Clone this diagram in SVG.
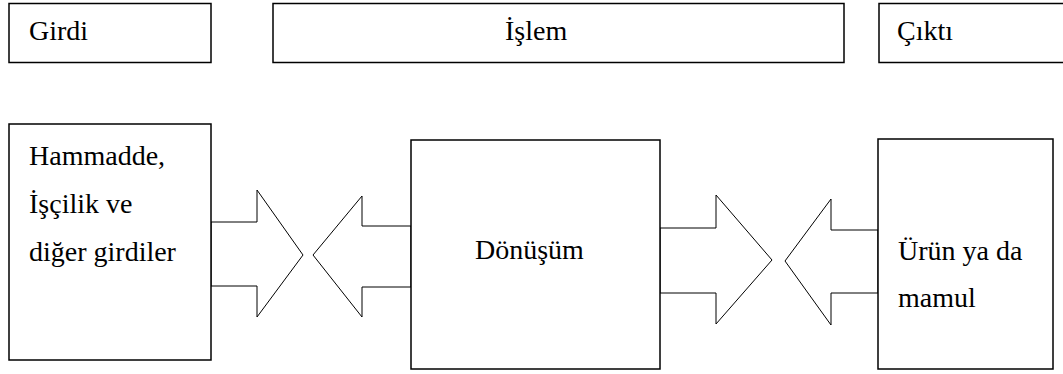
<svg xmlns="http://www.w3.org/2000/svg" width="1063" height="374" viewBox="0 0 1063 374">
<style>
.box{fill:#fff;stroke:#000;stroke-width:1.5}
.arr{fill:#fff;stroke:#000;stroke-width:1}
.t{font-family:'Liberation Serif','Times New Roman','DejaVu Serif',serif;font-size:28px;fill:#000}
</style>
<rect width="1063" height="374" fill="#fff"/>
<g id="connectors">
<polygon class="arr" points="211,222 257,222 257,190 303,255 257,317 257,286 211,286"/>
<polygon class="arr" points="411,226 362,226 362,196 313,255 362,317 362,287 411,287"/>
<polygon class="arr" points="660,228 716,228 716,195 772,260 716,324 716,293 660,293"/>
<polygon class="arr" points="878,230 831,230 831,199 785,261 831,325 831,293 878,293"/>
</g>
<g id="girdi"><rect class="box" x="9" y="3.5" width="202" height="59"/><text class="t" x="29" y="40" font-family="Liberation Serif, serif">Girdi</text></g>
<g id="islem"><rect class="box" x="273" y="3.5" width="571" height="59"/><text class="t" x="505" y="40" font-family="Liberation Serif, serif">İşlem</text></g>
<g id="cikti"><rect class="box" x="879" y="3.5" width="200" height="59"/><text class="t" x="897" y="40" font-family="Liberation Serif, serif">Çıktı</text></g>
<g id="hammadde"><rect class="box" x="9" y="124" width="202" height="236"/>
<text class="t" x="29" y="165">Hammadde,</text><text class="t" x="29" y="213">İşçilik ve</text><text class="t" x="29" y="261">diğer girdiler</text></g>
<g id="donusum"><rect class="box" x="411" y="140" width="249" height="229"/><text class="t" x="475" y="259">Dönüşüm</text></g>
<g id="urun"><rect class="box" x="878" y="139" width="175" height="230"/><text class="t" x="898" y="260">Ürün ya da</text><text class="t" x="898" y="307">mamul</text></g>
</svg>
